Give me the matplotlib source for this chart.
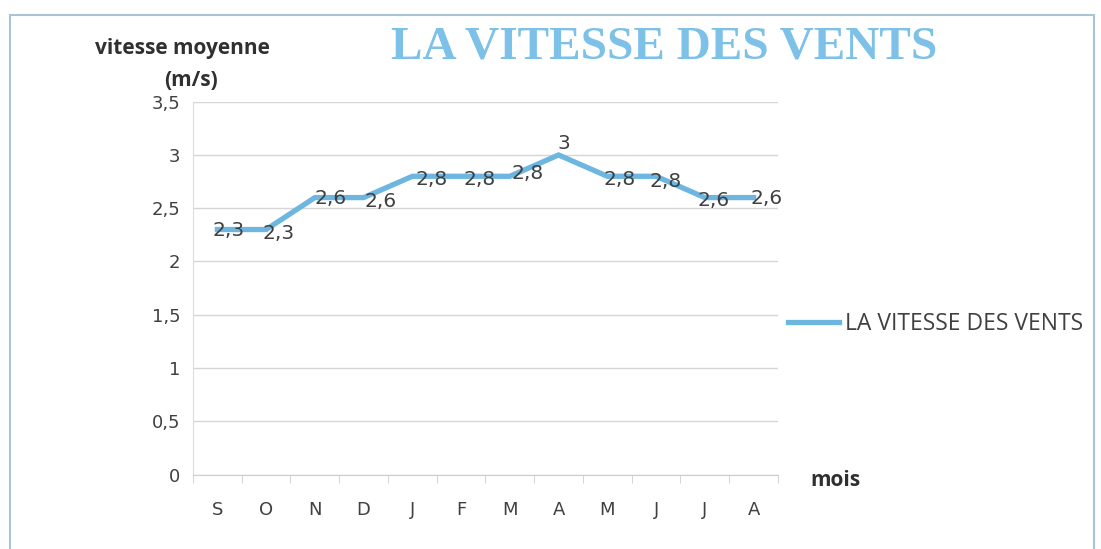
import matplotlib
matplotlib.use("Agg")
from matplotlib import pyplot as plt
from matplotlib.patches import Rectangle

# Mois (septembre -> août)
mois = ['S', 'O', 'N', 'D', 'J', 'F', 'M', 'A', 'M', 'J', 'J', 'A']

# Vitesse moyenne du vent (m/s)
vitesse = [2.3, 2.3, 2.6, 2.6, 2.8, 2.8, 2.8, 3.0, 2.8, 2.8, 2.6, 2.6]

# Graduations de l'axe vertical
graduations = [0, 0.5, 1, 1.5, 2, 2.5, 3, 3.5]

bleu = '#6cb6e0'
gris_texte = '#404040'

fig = plt.figure(figsize=(11.01, 5.49), dpi=100)
ax = fig.add_axes([0.1753, 0.1357, 0.5313, 0.679])

x = list(range(len(mois)))
ax.plot(x, vitesse, color=bleu, linewidth=3.8, solid_joinstyle='miter',
        label='LA VITESSE DES VENTS')

# décalage des étiquettes (en points)
decalages = [(8, -1), (9, -3), (11, -1), (12, -3), (14, -2), (13, -2),
             (13, 2), (4, 8), (9, -2), (7, -4), (6, -2), (9, -1)]
for xi, v, d in zip(x, vitesse, decalages):
    txt = ('%g' % v).replace('.', ',')
    ax.annotate(txt, (xi, v), xytext=d, textcoords='offset points',
                ha='center', va='center', fontsize=14.5, color=gris_texte)

ax.set_xlim(-0.5, len(mois) - 0.5)
ax.set_ylim(0, 3.5)
ax.set_yticks(graduations)
ax.set_yticklabels([('%g' % g).replace('.', ',') for g in graduations])
ax.set_xticks(x)
ax.set_xticklabels(mois)
ax.set_xticks([i - 0.5 for i in range(len(mois) + 1)], minor=True)

ax.grid(axis='y', color='#d6d6d6', linewidth=1)
ax.set_axisbelow(True)
for s in ['top', 'right']:
    ax.spines[s].set_visible(False)
ax.spines['left'].set_color('#dcdcdc')
ax.spines['bottom'].set_color('#c8d0d4')
ax.tick_params(axis='y', length=0, pad=9, labelsize=13, labelcolor=gris_texte)
ax.tick_params(axis='x', which='major', length=0, pad=19, labelsize=13,
               labelcolor=gris_texte)
ax.tick_params(axis='x', which='minor', length=6, color='#c8d0d4', direction='out')

leg = ax.legend(loc='center left', bbox_to_anchor=(0.99, 0.405), frameon=False,
                handlelength=2.2, handletextpad=0.3, borderaxespad=0.3,
                prop={'family': 'Open Sans', 'size': 16.5})
for t in leg.get_texts():
    t.set_color(gris_texte)

fig.text(0.603, 0.914, 'LA VITESSE DES VENTS', ha='center', va='center',
         family='Liberation Serif', fontweight='bold', fontsize=34, color='#7dc1e8')
fig.text(0.166, 0.912, 'vitesse moyenne', ha='center', va='center',
         family='Open Sans', fontweight='bold', fontsize=15, color='#303030')
fig.text(0.1735, 0.853, '(m/s)', ha='center', va='center',
         family='Open Sans', fontweight='bold', fontsize=15, color='#303030')
fig.text(0.759, 0.124, 'mois', ha='center', va='center',
         family='Open Sans', fontweight='bold', fontsize=15, color='#303030')

fig.patches.append(Rectangle((10 / 1101, -0.05), 1084 / 1101, 1.05 - 15 / 549,
                             transform=fig.transFigure, fill=False,
                             edgecolor='#a9c4d4', linewidth=1.5))

fig.savefig('out.png', dpi=100)
